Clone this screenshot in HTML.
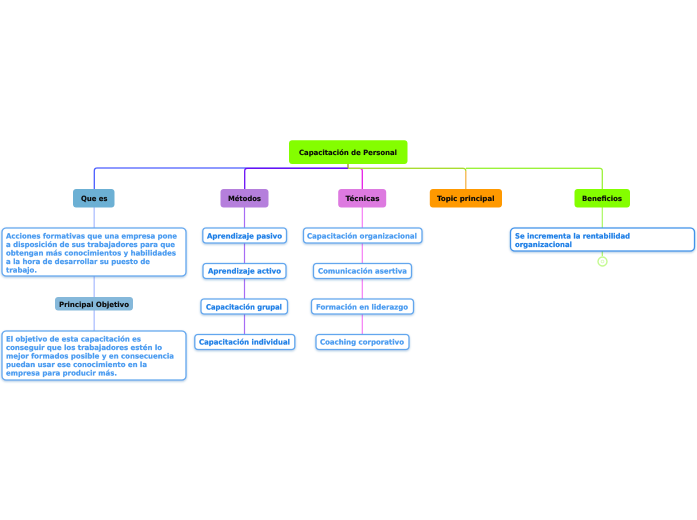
<!DOCTYPE html>
<html><head><meta charset="utf-8"><style>
html,body{margin:0;padding:0;background:#fff;width:697px;height:520px;overflow:hidden}
svg{display:block;filter:blur(.3px)}
text{font-family:"DejaVu Sans","Liberation Sans",sans-serif;font-weight:bold;font-size:7.2px;text-rendering:geometricPrecision}
.k{fill:#0a0a0a;stroke:#0a0a0a;stroke-width:.12}
.b{fill:#1f7fe6;stroke:#1f7fe6;stroke-width:.22}
.c{fill:#4a9bf0;stroke:#4a9bf0;stroke-width:.22}
.box{fill:#fff;stroke:#62a6ee;stroke-width:1.3}
.l{fill:none;stroke-width:1.3}
</style></head><body>
<svg width="697" height="520" viewBox="0 0 697 520" xmlns="http://www.w3.org/2000/svg">
<defs><filter id="s" x="-10%" y="-20%" width="120%" height="150%"><feDropShadow dx="0" dy="1" stdDeviation="1" flood-color="#1f5fa8" flood-opacity=".35"/></filter></defs>

<!-- connectors -->
<path class="l" d="M348 168H97Q94.300 168 94.300 171V189" stroke="#4a5cff"/>
<path class="l" d="M348 168.300H247.500Q244.700 168.300 244.700 171V189" stroke="#6a10f5"/>
<path class="l" d="M348 168.300H359.500Q362.300 168.300 362.300 171V189" stroke="#e61ee6"/>
<path class="l" d="M348 168.300H463Q465.800 168.300 465.800 171V189" stroke="#a9dc30"/>
<path d="M465.800 171V189" stroke="#ffb860" stroke-width="1.3" fill="none"/>
<path class="l" d="M466 168.300H599.500Q602.300 168.300 602.300 171V189" stroke="#9bf23a"/>
<path d="M348 164V168" stroke="#9aa030" stroke-width="1.4"/>
<path d="M94.200 207V331" stroke="#b8c8ff" stroke-width="1.5"/>
<path d="M244.500 207V334" stroke="#a76cf5" stroke-width="1.2"/>
<path d="M362.300 207V334" stroke="#f57cf5" stroke-width="1.2"/>
<path d="M602.300 207V256" stroke="#aaf860" stroke-width="1.2"/>
<circle cx="602.500" cy="261.500" r="4.500" fill="#fff" stroke="#c4fa90" stroke-width="1.4"/>
<circle cx="602.500" cy="261.500" r="1.400" fill="none" stroke="#d8f8b8" stroke-width=".8"/>

<!-- main nodes -->
<rect x="289" y="140.300" width="118.500" height="23.700" rx="3" fill="#84fe00"/>
<text class="k" x="299" y="155" textLength="98" lengthAdjust="spacingAndGlyphs">Capacitación de Personal</text>
<rect x="73" y="189" width="41.500" height="18.500" rx="3" fill="#6cb0d4"/>
<text class="k" x="81" y="201" textLength="26.500" lengthAdjust="spacingAndGlyphs">Que es</text>
<rect x="220.500" y="189" width="48" height="18.500" rx="3" fill="#b57fdc"/>
<text class="k" x="228" y="201" textLength="33" lengthAdjust="spacingAndGlyphs">Métodos</text>
<rect x="338.200" y="189" width="48" height="18.500" rx="3" fill="#dd7ae0"/>
<text class="k" x="345.500" y="201" textLength="34" lengthAdjust="spacingAndGlyphs">Técnicas</text>
<rect x="429.800" y="189" width="72.200" height="18.500" rx="3" fill="#ff9900"/>
<text class="k" x="437" y="201" textLength="57.500" lengthAdjust="spacingAndGlyphs">Topic principal</text>
<rect x="574.500" y="189" width="55.500" height="18.500" rx="3" fill="#84fe00"/>
<text class="k" x="582" y="201" textLength="40" lengthAdjust="spacingAndGlyphs">Beneficios</text>
<rect x="55" y="297" width="78" height="13.500" rx="3" fill="#85b8da"/>
<text class="k" x="59" y="307" textLength="70" lengthAdjust="spacingAndGlyphs">Principal Objetivo</text>

<!-- text boxes -->
<g filter="url(#s)">
<rect class="box" x="2" y="228" width="184" height="48" rx="4"/>
<rect class="box" x="2" y="331" width="184" height="49" rx="4"/>
<rect class="box" x="202.800" y="228" width="83.700" height="15" rx="3"/>
<rect class="box" x="203" y="263.500" width="83" height="15" rx="3"/>
<rect class="box" x="201" y="299" width="86.500" height="15" rx="3"/>
<rect class="box" x="194.800" y="334.500" width="100" height="15" rx="3"/>
<rect class="box" x="303.500" y="228" width="118.500" height="15" rx="3"/>
<rect class="box" x="313.500" y="263.500" width="98" height="15" rx="3"/>
<rect class="box" x="311.500" y="299" width="102" height="15" rx="3"/>
<rect class="box" x="316" y="334.500" width="93" height="15" rx="3"/>
<rect class="box" x="510.500" y="228" width="184" height="23" rx="4" style="stroke:#3f92ea"/>
</g>

<!-- text box labels -->
<text class="c" x="6" y="238.500" textLength="171" lengthAdjust="spacingAndGlyphs">Acciones formativas que una empresa pone</text>
<text class="c" x="6" y="246.800" textLength="169" lengthAdjust="spacingAndGlyphs">a disposición de sus trabajadores para que</text>
<text class="c" x="6" y="255.500" textLength="170" lengthAdjust="spacingAndGlyphs">obtengan más conocimientos y habilidades</text>
<text class="c" x="6" y="263.800" textLength="144" lengthAdjust="spacingAndGlyphs">a la hora de desarrollar su puesto de</text>
<text class="c" x="6" y="272.500" textLength="31" lengthAdjust="spacingAndGlyphs">trabajo.</text>
<text class="c" x="6" y="341.500" textLength="135" lengthAdjust="spacingAndGlyphs">El objetivo de esta capacitación es</text>
<text class="c" x="6" y="350" textLength="156" lengthAdjust="spacingAndGlyphs">conseguir que los trabajadores estén lo</text>
<text class="c" x="6" y="358.500" textLength="168" lengthAdjust="spacingAndGlyphs">mejor formados posible y en consecuencia</text>
<text class="c" x="6" y="367" textLength="141" lengthAdjust="spacingAndGlyphs">puedan usar ese conocimiento en la</text>
<text class="c" x="6" y="375.500" textLength="111" lengthAdjust="spacingAndGlyphs">empresa para producir más.</text>
<text class="b" x="207" y="238.500" textLength="75" lengthAdjust="spacingAndGlyphs">Aprendizaje pasivo</text>
<text class="b" x="208" y="273.700" textLength="73" lengthAdjust="spacingAndGlyphs">Aprendizaje activo</text>
<text class="b" x="206" y="309.300" textLength="76" lengthAdjust="spacingAndGlyphs">Capacitación grupal</text>
<text class="b" x="199" y="344.700" textLength="91" lengthAdjust="spacingAndGlyphs">Capacitación individual</text>
<text class="c" x="307" y="238.500" textLength="110" lengthAdjust="spacingAndGlyphs">Capacitación organizacional</text>
<text class="c" x="318" y="273.700" textLength="89" lengthAdjust="spacingAndGlyphs">Comunicación asertiva</text>
<text class="c" x="316" y="309.300" textLength="92" lengthAdjust="spacingAndGlyphs">Formación en liderazgo</text>
<text class="c" x="320" y="344.700" textLength="84" lengthAdjust="spacingAndGlyphs">Coaching corporativo</text>
<text class="b" x="515" y="238.500" textLength="115" lengthAdjust="spacingAndGlyphs">Se incrementa la rentabilidad</text>
<text class="b" x="515" y="247" textLength="57" lengthAdjust="spacingAndGlyphs">organizacional</text>
</svg>
</body></html>
